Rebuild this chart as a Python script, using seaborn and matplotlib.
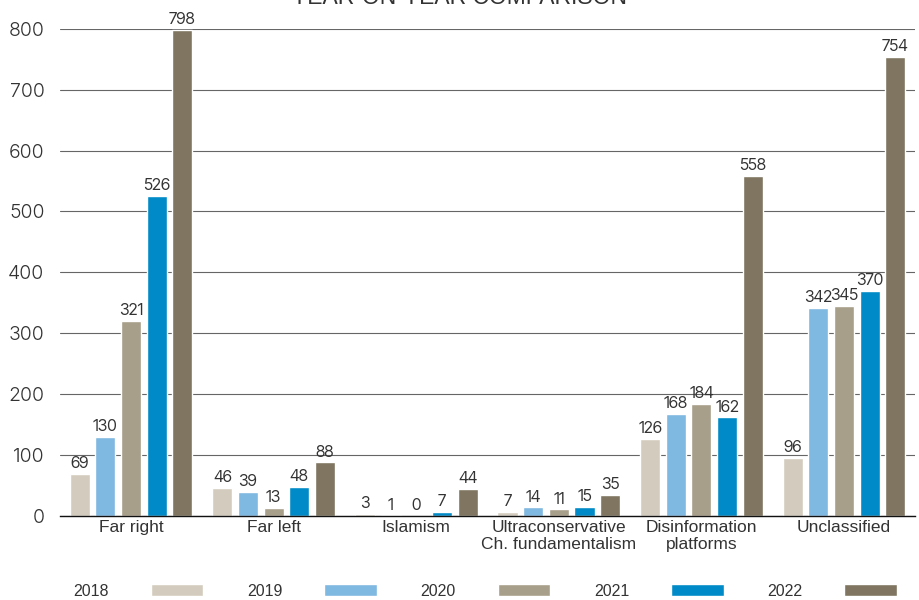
import pandas as pd
import matplotlib.pyplot as plt
from matplotlib.patches import Patch
import seaborn as sns

# ---------------------------------------------------------------------------
# DATA
# ---------------------------------------------------------------------------
categories = ["Far right", "Far left", "Islamism",
              "Ultraconservative\nCh. fundamentalism",
              "Disinformation\nplatforms", "Unclassified"]
years = ["2018", "2019", "2020", "2021", "2022"]
values = {
    "2018": [69, 46, 3, 7, 126, 96],
    "2019": [130, 39, 1, 14, 168, 342],
    "2020": [321, 13, 0, 11, 184, 345],
    "2021": [526, 48, 7, 15, 162, 370],
    "2022": [798, 88, 44, 35, 558, 754],
}
colors = ["#D3CBBE", "#7FB8E0", "#A89F8A", "#008BC8", "#7F7560"]
y_ticks = [0, 100, 200, 300, 400, 500, 600, 700, 800]

df = pd.DataFrame(
    [(c, y, values[y][i]) for y in years for i, c in enumerate(categories)],
    columns=["category", "year", "count"],
)

# ---------------------------------------------------------------------------
# PLOT
# ---------------------------------------------------------------------------
sns.set_theme(style="white")
plt.rcParams["font.family"] = ["Liberation Sans", "DejaVu Sans"]
TXT = "#333333"

fig = plt.figure(figsize=(9.19, 6), dpi=100)
ax = fig.add_axes([0.065, 0.14, 0.931, 0.812])

sns.barplot(data=df, x="category", y="count", hue="year", order=categories,
            hue_order=years, palette=colors, width=0.9, gap=0.22,
            saturation=1, legend=False, ax=ax)

# value labels, tight font so neighbouring labels don't collide
for cont in ax.containers:
    labels = ax.bar_label(cont, padding=2, fontsize=11.6, color=TXT)
    for t in labels:
        t.set_family(["Inter Tight", "Liberation Sans"])

ax.set_ylim(0, 800)
ax.set_xlim(-0.5, 5.5)
ax.set_yticks(y_ticks)
ax.set_xlabel("")
ax.set_ylabel("")
ax.yaxis.grid(True, color="#666666", linewidth=0.8)
ax.set_axisbelow(True)
for s in ["left", "right", "top"]:
    ax.spines[s].set_visible(False)
ax.spines["bottom"].set_color("#111111")
ax.spines["bottom"].set_linewidth(1.0)
ax.tick_params(axis="y", length=0, pad=11, labelsize=14, labelcolor=TXT)
ax.tick_params(axis="x", length=0, pad=3, labelsize=12.5, labelcolor=TXT)
for lbl in ax.get_yticklabels():
    lbl.set_family(["Inter", "Liberation Sans"])
    lbl.set_fontweight(300)
for lbl in ax.get_xticklabels():
    lbl.set_linespacing(1.15)

fig.text(0.5, 0.993, "YEAR-ON-YEAR COMPARISON", ha="center", va="baseline",
         fontsize=16.5, color=TXT)

handles = [Patch(facecolor=c, label=y) for y, c in zip(years, colors)]
fig.legend(handles=handles, loc="center", bbox_to_anchor=(0.528, 0.015),
           ncol=5, frameon=False, markerfirst=False, fontsize=11.5,
           handlelength=3.3, handleheight=0.8, handletextpad=2.6,
           columnspacing=2.75, labelcolor=TXT)

plt.savefig("out.png", dpi=100)
plt.close()
